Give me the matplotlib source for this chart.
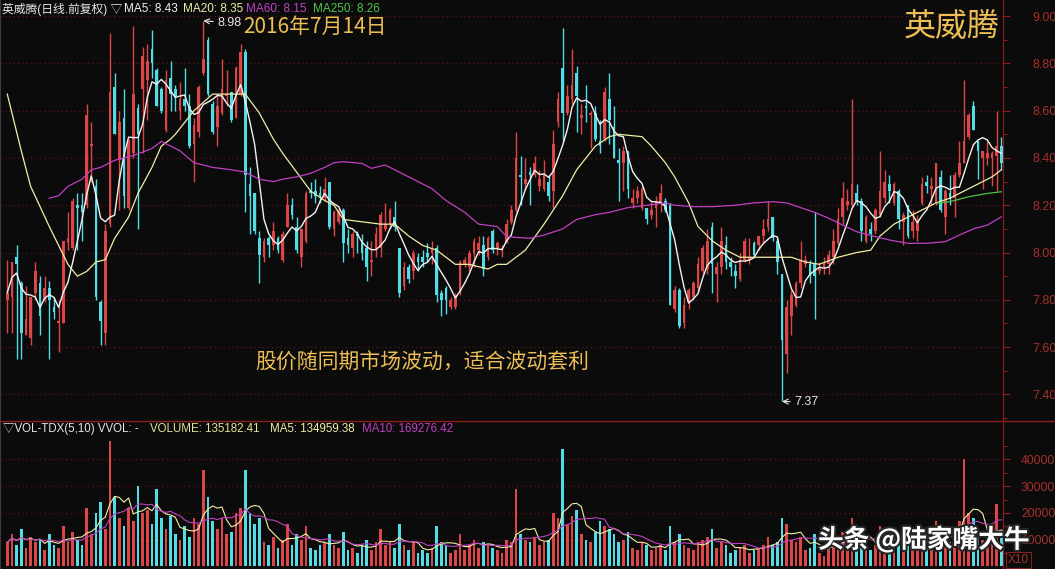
import numpy as np
import pandas as pd
import matplotlib
matplotlib.use('Agg')
import matplotlib.pyplot as plt
from matplotlib.lines import Line2D
from matplotlib.ticker import FormatStrFormatter
import matplotlib.patheffects as pe

plt.rcParams['font.family'] = ['Liberation Sans', 'Noto Sans CJK SC', 'DejaVu Sans']

# 日线 OHLC
opens = [7.80, 7.81, 7.98, 7.87, 7.65, 7.64, 7.83, 7.87, 7.80, 7.85,
         7.77, 7.70, 7.70, 8.04, 8.02, 8.20, 8.20, 8.20, 8.45, 8.28,
         7.79, 7.66, 8.12, 8.70, 8.39, 8.57, 8.19, 8.42, 8.61, 8.69,
         8.73, 8.86, 8.77, 8.69, 8.52, 8.74, 8.69, 8.60, 8.65, 8.62,
         8.46, 8.51, 8.76, 8.90, 8.63, 8.53, 8.59, 8.66, 8.68, 8.57,
         8.67, 8.85, 8.29, 8.25, 8.06, 7.98, 8.06, 8.03, 8.06, 7.97,
         8.11, 8.20, 8.11, 7.98, 8.05, 8.26, 8.26, 8.25, 8.23, 8.30,
         8.10, 8.13, 8.18, 8.06, 8.02, 8.08, 8.04, 8.02, 7.96, 8.01,
         8.02, 8.10, 8.12, 8.15, 8.02, 7.86, 7.94, 7.92, 7.98, 7.98,
         8.00, 8.00, 8.02, 7.83, 7.85, 7.77, 7.77, 7.83, 7.95, 7.94,
         8.00, 8.01, 8.03, 7.98, 8.09, 8.02, 8.01, 8.04, 8.13, 8.18,
         8.33, 8.29, 8.34, 8.33, 8.28, 8.27, 8.30, 8.26, 8.55, 8.78,
         8.59, 8.65, 8.76, 8.57, 8.62, 8.58, 8.59, 8.47, 8.48, 8.65,
         8.53, 8.39, 8.38, 8.43, 8.21, 8.23, 8.19, 8.19, 8.16, 8.19,
         8.21, 8.22, 8.20, 7.76, 7.84, 7.70, 7.79, 7.81, 7.85, 7.92,
         7.93, 8.11, 7.91, 7.94, 8.03, 7.96, 7.92, 7.89, 7.97, 7.97,
         8.04, 8.03, 8.07, 8.11, 8.15, 8.05, 7.91, 7.57, 7.73, 7.78,
         7.87, 7.95, 7.95, 7.95, 7.92, 7.94, 7.95, 7.98, 8.04, 8.15,
         8.20, 8.20, 8.25, 8.22, 8.05, 8.10, 8.09, 8.16, 8.23, 8.29,
         8.21, 8.26, 8.13, 8.20, 8.09, 8.09, 8.21, 8.30, 8.27, 8.21,
         8.32, 8.15, 8.25, 8.23, 8.33, 8.38, 8.49, 8.62, 8.47, 8.40,
         8.40, 8.40, 8.41, 8.45]
highs = [7.97, 7.96, 8.03, 7.88, 7.86, 7.81, 7.96, 7.90, 7.90, 7.88,
         7.81, 7.80, 8.05, 8.17, 8.23, 8.25, 8.25, 8.63, 8.55, 8.31,
         7.80, 8.12, 8.93, 8.76, 8.60, 8.69, 8.48, 8.96, 8.63, 8.87,
         8.88, 8.94, 8.78, 8.70, 8.77, 8.81, 8.71, 8.72, 8.78, 8.67,
         8.57, 8.71, 8.98, 8.91, 8.64, 8.67, 8.82, 8.77, 8.68, 8.79,
         8.88, 8.86, 8.36, 8.25, 8.09, 8.06, 8.07, 8.13, 8.07, 8.09,
         8.25, 8.23, 8.15, 8.10, 8.26, 8.30, 8.31, 8.28, 8.32, 8.30,
         8.18, 8.19, 8.19, 8.10, 8.09, 8.09, 8.08, 8.05, 8.05, 8.11,
         8.17, 8.21, 8.19, 8.22, 8.02, 7.96, 7.95, 8.01, 8.00, 8.01,
         8.04, 8.05, 8.03, 7.84, 7.86, 7.81, 7.83, 7.97, 7.98, 8.01,
         8.06, 8.07, 8.07, 8.07, 8.10, 8.05, 8.03, 8.14, 8.20, 8.51,
         8.41, 8.40, 8.36, 8.41, 8.35, 8.39, 8.33, 8.52, 8.68, 8.95,
         8.71, 8.86, 8.79, 8.63, 8.71, 8.60, 8.62, 8.56, 8.70, 8.76,
         8.62, 8.44, 8.45, 8.43, 8.27, 8.28, 8.28, 8.19, 8.22, 8.24,
         8.29, 8.23, 8.21, 7.86, 7.85, 7.81, 7.85, 7.88, 7.98, 8.03,
         8.10, 8.13, 7.96, 8.11, 8.07, 7.98, 7.95, 8.00, 8.06, 8.06,
         8.05, 8.07, 8.14, 8.22, 8.15, 8.06, 7.91, 7.80, 7.84, 7.88,
         8.05, 7.99, 7.97, 8.17, 7.96, 7.98, 8.01, 8.10, 8.19, 8.30,
         8.27, 8.65, 8.29, 8.23, 8.16, 8.13, 8.19, 8.43, 8.35, 8.33,
         8.30, 8.27, 8.17, 8.20, 8.18, 8.16, 8.32, 8.33, 8.32, 8.38,
         8.35, 8.27, 8.33, 8.34, 8.47, 8.73, 8.59, 8.64, 8.47, 8.43,
         8.47, 8.43, 8.60, 8.49]
lows = [7.66, 7.66, 7.55, 7.55, 7.65, 7.61, 7.80, 7.65, 7.79, 7.55,
        7.72, 7.58, 7.70, 8.01, 8.01, 8.01, 8.05, 8.19, 8.30, 7.80,
        7.61, 7.61, 8.11, 8.50, 8.18, 8.19, 8.18, 8.40, 8.10, 8.42,
        8.56, 8.74, 8.62, 8.59, 8.51, 8.60, 8.60, 8.56, 8.60, 8.44,
        8.30, 8.49, 8.75, 8.66, 8.50, 8.45, 8.58, 8.62, 8.55, 8.57,
        8.66, 8.17, 8.08, 8.08, 7.87, 7.96, 7.98, 8.01, 8.00, 7.96,
        8.11, 8.14, 8.00, 7.94, 8.04, 8.23, 8.21, 8.21, 8.22, 8.10,
        8.07, 8.12, 7.96, 8.00, 7.98, 8.00, 7.97, 7.88, 7.90, 7.98,
        7.98, 8.09, 8.10, 8.09, 7.81, 7.84, 7.87, 7.89, 7.92, 7.94,
        7.96, 7.95, 7.79, 7.73, 7.74, 7.76, 7.76, 7.82, 7.94, 7.92,
        7.94, 7.99, 7.90, 7.97, 8.00, 7.99, 7.98, 8.04, 8.12, 8.17,
        8.20, 8.27, 8.20, 8.32, 8.26, 8.26, 8.22, 8.19, 8.53, 8.47,
        8.58, 8.63, 8.51, 8.50, 8.55, 8.44, 8.47, 8.42, 8.47, 8.46,
        8.40, 8.22, 8.26, 8.23, 8.19, 8.21, 8.18, 8.12, 8.14, 8.11,
        8.17, 8.17, 7.78, 7.75, 7.68, 7.68, 7.76, 7.80, 7.83, 7.91,
        7.91, 7.83, 7.79, 7.91, 7.93, 7.90, 7.85, 7.88, 7.96, 7.95,
        7.98, 8.01, 8.04, 8.09, 8.05, 7.91, 7.37, 7.49, 7.65, 7.77,
        7.85, 7.94, 7.87, 7.72, 7.91, 7.91, 7.91, 7.95, 8.03, 8.12,
        8.18, 8.19, 8.20, 8.05, 8.04, 8.05, 8.08, 8.15, 8.21, 8.21,
        8.20, 8.10, 8.03, 8.06, 8.06, 8.05, 8.20, 8.25, 8.20, 8.20,
        8.17, 8.08, 8.20, 8.15, 8.32, 8.38, 8.48, 8.52, 8.31, 8.27,
        8.37, 8.28, 8.26, 8.35]
closes = [7.83, 7.96, 7.95, 7.66, 7.72, 7.81, 7.92, 7.73, 7.85, 7.80,
          7.75, 7.71, 8.05, 8.06, 8.22, 8.19, 8.17, 8.58, 8.46, 7.81,
          7.71, 8.09, 8.68, 8.50, 8.55, 8.24, 8.47, 8.67, 8.50, 8.83,
          8.81, 8.80, 8.62, 8.60, 8.73, 8.67, 8.66, 8.65, 8.62, 8.45,
          8.54, 8.70, 8.82, 8.67, 8.51, 8.62, 8.69, 8.67, 8.56, 8.78,
          8.85, 8.33, 8.24, 8.09, 7.99, 8.05, 8.03, 8.09, 8.01, 8.08,
          8.20, 8.16, 8.01, 8.10, 8.25, 8.25, 8.24, 8.24, 8.27, 8.11,
          8.17, 8.18, 8.04, 8.03, 8.08, 8.07, 8.00, 7.94, 7.97, 8.08,
          8.16, 8.12, 8.18, 8.11, 7.83, 7.94, 7.89, 8.00, 7.96, 7.96,
          7.98, 8.02, 7.82, 7.80, 7.80, 7.80, 7.82, 7.96, 7.97, 8.00,
          8.05, 8.04, 7.93, 8.06, 8.01, 8.04, 8.02, 8.12, 8.18, 8.40,
          8.32, 8.31, 8.33, 8.38, 8.31, 8.33, 8.24, 8.46, 8.65, 8.59,
          8.66, 8.71, 8.66, 8.58, 8.61, 8.59, 8.48, 8.45, 8.68, 8.56,
          8.40, 8.38, 8.43, 8.27, 8.23, 8.26, 8.27, 8.14, 8.18, 8.22,
          8.25, 8.18, 7.78, 7.84, 7.69, 7.78, 7.84, 7.87, 7.95, 8.02,
          8.05, 7.95, 7.94, 8.05, 7.96, 7.94, 7.90, 7.97, 8.05, 7.98,
          7.99, 8.07, 8.10, 8.14, 8.06, 7.96, 7.63, 7.77, 7.82, 7.87,
          7.97, 7.97, 7.91, 7.90, 7.94, 7.95, 7.99, 8.05, 8.14, 8.23,
          8.22, 8.29, 8.22, 8.09, 8.15, 8.08, 8.18, 8.26, 8.30, 8.26,
          8.29, 8.14, 8.16, 8.07, 8.13, 8.13, 8.29, 8.28, 8.28, 8.38,
          8.18, 8.26, 8.23, 8.33, 8.38, 8.47, 8.58, 8.52, 8.43, 8.43,
          8.42, 8.42, 8.45, 8.38]

# 成交量 (X10)
volumes = [9000, 12000, 8000, 14000, 7000, 11000, 9000, 10000, 6000, 12000,
           8000, 7000, 15000, 9000, 13000, 10000, 8000, 22000, 12000, 20000,
           24000, 14000, 47000, 26000, 18000, 15000, 22000, 17000, 30000, 20000,
           21000, 16000, 29000, 18000, 14000, 19000, 12000, 10000, 15000, 11000,
           18000, 16000, 36000, 26000, 17000, 14000, 18000, 12000, 13000, 20000,
           22000, 36000, 20000, 16000, 18000, 9000, 8000, 11000, 7000, 10000,
           16000, 8000, 12000, 10000, 15000, 7000, 6000, 8000, 9000, 12000,
           8000, 7000, 13000, 6000, 7000, 5000, 8000, 10000, 6000, 9000,
           14000, 8000, 9000, 7000, 16000, 8000, 6000, 9000, 5000, 6000,
           5000, 7000, 15000, 9000, 8000, 5000, 6000, 12000, 6000, 8000,
           10000, 7000, 9000, 8000, 7000, 6000, 5000, 10000, 9000, 29000,
           12000, 10000, 9000, 11000, 8000, 9000, 10000, 20000, 18000, 44000,
           16000, 19000, 21000, 12000, 10000, 9000, 13000, 17000, 15000, 14000,
           12000, 9000, 10000, 13000, 7000, 6000, 9000, 8000, 6000, 7000,
           8000, 6000, 15000, 9000, 12000, 8000, 7000, 6000, 9000, 10000,
           11000, 14000, 7000, 9000, 8000, 5000, 6000, 7000, 8000, 5000,
           6000, 7000, 8000, 11000, 8000, 9000, 18000, 16000, 10000, 9000,
           11000, 6000, 7000, 12000, 5000, 4000, 7000, 9000, 11000, 13000,
           8000, 18000, 10000, 12000, 9000, 6000, 8000, 15000, 10000, 8000,
           9000, 12000, 7000, 11000, 8000, 9000, 14000, 8000, 10000, 17000,
           13000, 11000, 9000, 12000, 17000, 40000, 20000, 18000, 11000, 10000,
           9000, 12000, 23500, 13500]

# 均线 (读图取点: K线序号, 数值)
ma20_idx = [0, 3, 5, 9, 13, 15, 17, 19, 21, 23, 26, 28, 31, 33, 35, 36, 40, 44, 48, 51,
            54, 57, 59, 62, 65, 68, 70, 72, 76, 80, 83, 86, 89, 92, 96, 99, 103, 105, 107, 111,
            115, 119, 122, 126, 129, 131, 136, 138, 141, 143, 146, 148, 151, 154, 157, 161, 165, 168, 171, 174,
            178, 182, 185, 187, 190, 193, 197, 199, 202, 205, 208, 211, 213]
ma20_val = [8.67, 8.43, 8.28, 8.11, 7.95, 7.90, 7.92, 7.96, 7.97, 8.06, 8.15, 8.25, 8.36, 8.45, 8.48, 8.50, 8.60, 8.67, 8.67, 8.67,
            8.59, 8.48, 8.42, 8.34, 8.26, 8.22, 8.20, 8.14, 8.13, 8.12, 8.12, 8.07, 8.03, 8.01, 7.95, 7.95, 7.93, 7.95, 7.95, 8.01,
            8.12, 8.24, 8.35, 8.45, 8.49, 8.50, 8.49, 8.45, 8.38, 8.32, 8.21, 8.11, 8.05, 8.01, 7.98, 7.98, 7.98, 7.98, 7.96, 7.95,
            7.98, 8.00, 8.01, 8.07, 8.12, 8.15, 8.19, 8.21, 8.23, 8.26, 8.29, 8.32, 8.35]
ma60_idx = [9, 11, 13, 16, 18, 20, 23, 27, 31, 33, 37, 40, 44, 48, 51, 54, 57, 59, 62, 65,
            68, 70, 72, 76, 78, 81, 83, 87, 91, 94, 98, 101, 105, 107, 112, 115, 119, 122, 126, 129,
            133, 137, 141, 143, 147, 151, 156, 160, 164, 167, 170, 173, 176, 179, 182, 186, 189, 193, 197, 201,
            204, 207, 210, 213]
ma60_val = [8.23, 8.24, 8.28, 8.31, 8.35, 8.36, 8.39, 8.41, 8.44, 8.47, 8.43, 8.38, 8.36, 8.35, 8.34, 8.31, 8.30, 8.31, 8.32, 8.335,
            8.36, 8.38, 8.384, 8.377, 8.356, 8.37, 8.35, 8.31, 8.27, 8.22, 8.17, 8.12, 8.11, 8.067, 8.06, 8.074, 8.10, 8.14, 8.16, 8.17,
            8.19, 8.20, 8.21, 8.20, 8.194, 8.194, 8.20, 8.21, 8.215, 8.21, 8.19, 8.17, 8.145, 8.116, 8.088, 8.067, 8.053, 8.039, 8.039, 8.046,
            8.074, 8.10, 8.116, 8.151]
ma250_idx = [199, 202, 206, 210, 213]
ma250_val = [8.208, 8.215, 8.236, 8.25, 8.257]

price_ticks = [7.40, 7.60, 7.80, 8.00, 8.20, 8.40, 8.60, 8.80, 9.00]
vol_ticks = [10000, 20000, 30000, 40000]

BG = '#0b0b0b'
RED = '#dc4646'
CYAN = '#52dce6'
AXC = '#8c1e1e'
LBL = '#a5302c'
GRID = '#5e1616'
GOLD = '#ecbe55'
MA5C = '#f2f2f2'
MA20C = '#f0eea6'
MA60C = '#c040c4'
MA250C = '#4cc44c'

W, H = 1055, 569
fig = plt.figure(figsize=(W / 100, H / 100), dpi=100)
fig.patch.set_facecolor(BG)


def px_axes(x0, y0, x1, y1):
    a = fig.add_axes([x0 / W, 1 - y1 / H, (x1 - x0) / W, (y1 - y0) / H])
    a.set_facecolor(BG)
    return a


ax = px_axes(0, 0, 1003, 421)
axv = px_axes(0, 421, 1003, 569)

o = np.array(opens); h = np.array(highs); l = np.array(lows); c = np.array(closes)
idx = np.arange(len(c))
up = c >= o
cols = np.where(up, RED, CYAN)

# K线
ax.vlines(idx, l, h, colors=cols, linewidth=1)
ax.bar(idx, np.maximum(np.abs(c - o), 0.004), bottom=np.minimum(o, c),
       width=0.62, color=cols, linewidth=0)

ma5 = pd.Series(c).rolling(5, min_periods=1).mean()
ax.plot(idx, ma5, color=MA5C, lw=1)
ax.plot(ma20_idx, ma20_val, color=MA20C, lw=0.9)
ax.plot(ma60_idx, ma60_val, color=MA60C, lw=0.9)
ax.plot(ma250_idx, ma250_val, color=MA250C, lw=0.9)

# 成交量
v = np.array(volumes)
axv.bar(idx, v, width=0.62, color=cols, linewidth=0)
vma5 = pd.Series(v).rolling(5, min_periods=1).mean()
vma10 = pd.Series(v).rolling(10, min_periods=1).mean()
axv.plot(idx, vma5, color=MA20C, lw=0.8)
axv.plot(idx, vma10, color=MA60C, lw=0.8)

for a in (ax, axv):
    a.set_xlim(-1.56, 213.35)
    for s in ('top', 'bottom'):
        a.spines[s].set_visible(False)
    a.spines['left'].set_color('#3a3a3a')
    a.spines['right'].set_color(AXC)
    a.yaxis.tick_right()
    a.tick_params(axis='x', bottom=False, labelbottom=False)
    a.grid(axis='y', which='major', color=GRID, linestyle=(0, (1, 2.5)), linewidth=0.9)
    a.set_axisbelow(True)

ax.set_ylim(7.2875, 9.068)
ax.set_yticks(price_ticks)
ax.set_yticks([t + 0.1 for t in price_ticks[:-1]] + [7.3], minor=True)
ax.yaxis.set_major_formatter(FormatStrFormatter('%.2f'))
ax.tick_params(axis='y', which='major', colors=AXC, labelcolor=LBL, length=5, width=0.8,
               labelsize=9, pad=16)
ax.tick_params(axis='y', which='minor', colors=AXC, length=3, width=0.8)

axv.set_ylim(-1000, 54400)
axv.set_yticks(vol_ticks)
axv.set_yticks([5000, 15000, 25000, 35000, 45000], minor=True)
axv.yaxis.set_major_formatter(FormatStrFormatter('%d'))
axv.tick_params(axis='y', which='major', colors=AXC, labelcolor=LBL, length=5, width=0.8,
                labelsize=8.8, pad=8)
axv.tick_params(axis='y', which='minor', colors=AXC, length=3, width=0.8)

fig.add_artist(Line2D([0, 1], [1 - 421 / H, 1 - 421 / H], color=AXC, lw=1))

# 高低点标注
ax.annotate('8.98', xy=(42, 8.98), xytext=(45.0, 8.972), color='#e6e6e6', fontsize=9,
            va='center', ha='left',
            arrowprops=dict(arrowstyle='->', color='#e6e6e6', lw=0.8, shrinkA=1, shrinkB=0))
ax.annotate('7.37', xy=(166, 7.37), xytext=(168.6, 7.368), color='#e6e6e6', fontsize=9,
            va='center', ha='left',
            arrowprops=dict(arrowstyle='->', color='#e6e6e6', lw=0.8, shrinkA=1, shrinkB=0))


def ftext(x, y, s, **kw):
    return fig.text(x / W, 1 - y / H, s, va='center', **kw)


# 标题行
ftext(2, 9, '英威腾(日线.前复权) ▽', color='#e6e6e6', fontsize=8.5)
ftext(124, 9, 'MA5: 8.43', color=MA5C, fontsize=8.5)
ftext(183, 9, 'MA20: 8.35', color=MA20C, fontsize=8.5)
ftext(246, 9, 'MA60: 8.15', color=MA60C, fontsize=8.5)
ftext(313, 9, 'MA250: 8.26', color=MA250C, fontsize=8.5)

ftext(3, 429, '▽VOL-TDX(5,10) VVOL: -', color='#e6e6e6', fontsize=8.3)
ftext(150, 429, 'VOLUME: 135182.41', color='#e4e49a', fontsize=8.3)
ftext(270, 429, 'MA5: 134959.38', color=MA20C, fontsize=8.3)
ftext(362, 429, 'MA10: 169276.42', color=MA60C, fontsize=8.3)

cjk = ['Noto Sans CJK SC', 'DejaVu Sans']
ftext(243, 27, '2016年7月14日', color=GOLD, fontsize=15, family=cjk)
ftext(1000, 27, '英威腾', color=GOLD, fontsize=23, family=cjk, ha='right')
ftext(255, 362, '股价随同期市场波动，适合波动套利', color=GOLD, fontsize=15, family=cjk)

ftext(1008, 560, 'X10', color=LBL, fontsize=8.5,
      bbox=dict(facecolor='none', edgecolor=AXC, pad=1.2, lw=0.8))

wm = ftext(818, 540, '头条 @陆家嘴大牛', color='white', fontsize=18.5, family=cjk,
           fontweight='bold')
wm.set_path_effects([pe.withStroke(linewidth=3, foreground='#262626')])

fig.savefig('out.png', dpi=100, facecolor=BG)
